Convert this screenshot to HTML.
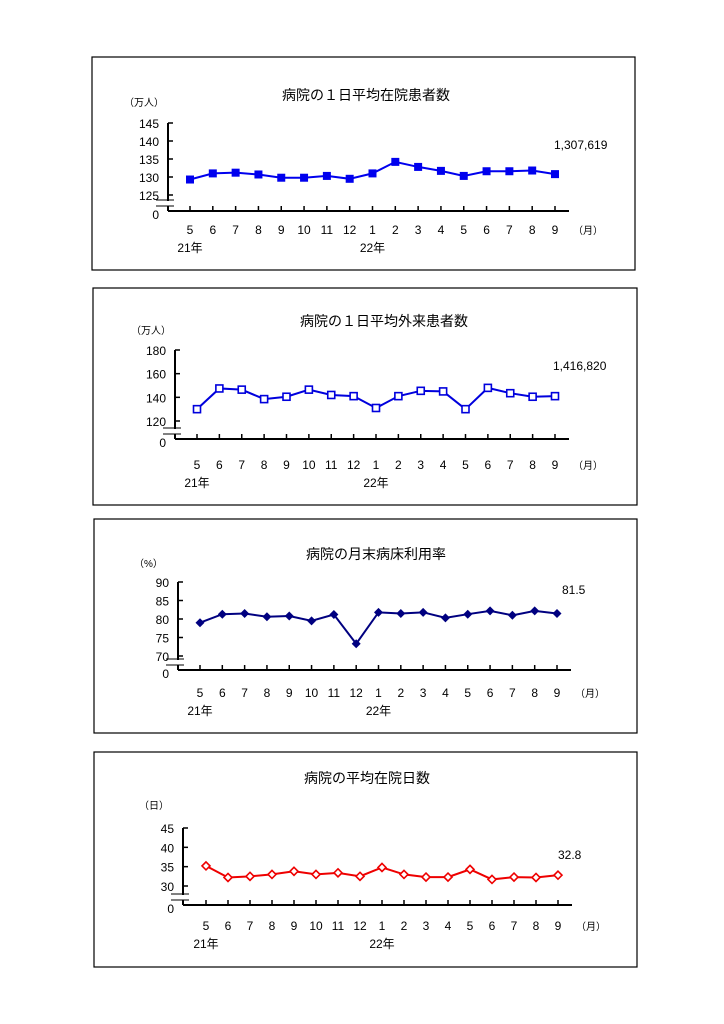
<!DOCTYPE html>
<html><head><meta charset="utf-8">
<style>
body{margin:0;background:#fff;}
svg{display:block;font-family:"Liberation Sans","Noto Sans CJK JP",sans-serif;}
</style></head>
<body>
<svg id="s" width="724" height="1024"></svg>
<script>
const months = ["5","6","7","8","9","10","11","12","1","2","3","4","5","6","7","8","9"];
const inpatientValues = [129.3,131,131.2,130.7,129.8,129.8,130.3,129.5,131,134.2,132.8,131.7,130.3,131.6,131.6,131.8,130.8];
const inpatientTicks = [125,130,135,140,145];
const outpatientValues = [130,147.5,146.5,138.5,140.5,146.5,142,141,131,141,145.5,145,130,148,143.5,140.5,141];
const outpatientTicks = [120,140,160,180];
const bedRateValues = [79,81.3,81.5,80.6,80.8,79.5,81.2,73.3,81.8,81.5,81.8,80.3,81.3,82.2,81,82.2,81.5];
const bedRateTicks = [70,75,80,85,90];
const stayValues = [35.2,32.2,32.5,33,33.8,33,33.4,32.5,34.8,33,32.3,32.3,34.3,31.7,32.3,32.2,32.8];
const stayTicks = [30,35,40,45];

const NS="http://www.w3.org/2000/svg";
const svg=document.getElementById('s');
function mk(tag,attrs,parent,text){const e=document.createElementNS(NS,tag);for(const k in attrs)e.setAttribute(k,attrs[k]);if(text!==undefined)e.textContent=text;(parent||svg).appendChild(e);return e;}

function chart(c){
  const g=mk('g',{});
  
  
  const box=mk('rect',{x:c.bx,y:c.by,width:c.bw,height:c.bh,fill:'none',stroke:'#000','stroke-width':1.2},g);
  
  
  const t=mk('text',{x:c.tx,y:c.ty,'font-size':14,'text-anchor':'middle'},g,c.title);
  
  
  const u=mk('text',{x:c.ax-44,y:c.uy,'font-size':10},g,c.unit);
  
  
  const y=v=>c.y0+(v-c.ticks[0])*(c.y1-c.y0)/(c.ticks[c.ticks.length-1]-c.ticks[0]);
  const x=i=>c.x0+i*(c.x1-c.x0)/(months.length-1);
  mk('line',{x1:c.ax,y1:y(c.ticks[c.ticks.length-1]),x2:c.ax,y2:c.base,stroke:'#000','stroke-width':2},g);
  mk('line',{x1:c.ax,y1:c.base,x2:c.x1+14,y2:c.base,stroke:'#000','stroke-width':2},g);
  mk('rect',{x:c.ax-2,y:c.base-10,width:4,height:5,fill:'#fff'},g);
  mk('line',{x1:c.ax-12,y1:c.base-11,x2:c.ax+6,y2:c.base-11,stroke:'#000','stroke-width':1},g);
  mk('line',{x1:c.ax-12,y1:c.base-5,x2:c.ax+6,y2:c.base-5,stroke:'#000','stroke-width':1},g);
  c.ticks.forEach(v=>{
    mk('line',{x1:c.ax,y1:y(v),x2:c.ax+5,y2:y(v),stroke:'#000','stroke-width':1.5},g);
    const l=mk('text',{x:c.ax-9,y:y(v)+5,'font-size':12,'text-anchor':'end'},g,String(v));
    
    
  });
  const z=mk('text',{x:c.ax-9,y:c.base+8,'font-size':12,'text-anchor':'end'},g,'0');
  
  
  months.forEach((m,i)=>{
    mk('line',{x1:x(i),y1:c.base,x2:x(i),y2:c.base-5,stroke:'#000','stroke-width':1.5},g);
    const l=mk('text',{x:x(i),y:c.ly,'font-size':12,'text-anchor':'middle'},g,m);
    
    
  });
  const mo=mk('text',{x:x(16)+33,y:c.ly,'font-size':10,'text-anchor':'middle'},g,'（月）');
  
  
  const y1=mk('text',{x:x(0),y:c.ly+18,'font-size':12,'text-anchor':'middle'},g,'21年');
  
  
  const y2=mk('text',{x:x(8),y:c.ly+18,'font-size':12,'text-anchor':'middle'},g,'22年');
  
  
  const pts=c.values.map((v,i)=>x(i)+','+y(v)).join(' ');
  const pl=mk('polyline',{points:pts,fill:'none',stroke:c.color,'stroke-width':2},g);
  
  
  c.values.forEach((v,i)=>{
    const px=x(i),py=y(v);let m;
    if(c.marker==='sq') m=mk('rect',{x:px-4,y:py-4,width:8,height:8,fill:c.color},g);
    else if(c.marker==='hsq') m=mk('rect',{x:px-3.5,y:py-3.5,width:7,height:7,fill:'#fff',stroke:c.color,'stroke-width':1.6},g);
    else if(c.marker==='dia') m=mk('polygon',{points:`${px},${py-4.5} ${px+4.5},${py} ${px},${py+4.5} ${px-4.5},${py}`,fill:c.color},g);
    else m=mk('polygon',{points:`${px},${py-4} ${px+4},${py} ${px},${py+4} ${px-4},${py}`,fill:'#fff',stroke:c.color,'stroke-width':1.6},g);
    
    
  });
  const vl=mk('text',{x:c.vx,y:c.vy,'font-size':12},g,c.vlabel);
  
  
}

chart({name:'inpatient-chart',bx:92,by:57,bw:543,bh:213,tx:366,ty:100,title:'病院の１日平均在院患者数',unit:'（万人）',uy:106,
 ax:168,ticks:inpatientTicks,y0:195,y1:123,base:211,x0:190,x1:555,ly:234,values:inpatientValues,color:'#0000ee',marker:'sq',vlabel:'1,307,619',vx:554,vy:149});
chart({name:'outpatient-chart',bx:93,by:288,bw:544,bh:217,tx:384,ty:326,title:'病院の１日平均外来患者数',unit:'（万人）',uy:334,
 ax:175,ticks:outpatientTicks,y0:421,y1:350,base:439,x0:197,x1:555,ly:469,values:outpatientValues,color:'#0000dd',marker:'hsq',vlabel:'1,416,820',vx:553,vy:370});
chart({name:'bed-utilization-chart',bx:94,by:519,bw:543,bh:214,tx:376,ty:559,title:'病院の月末病床利用率',unit:'（%）',uy:567,
 ax:178,ticks:bedRateTicks,y0:656,y1:582,base:670,x0:200,x1:557,ly:697,values:bedRateValues,color:'#000080',marker:'dia',vlabel:'81.5',vx:562,vy:594});
chart({name:'average-stay-chart',bx:94,by:752,bw:543,bh:215,tx:367,ty:783,title:'病院の平均在院日数',unit:'（日）',uy:809,
 ax:183,ticks:stayTicks,y0:886,y1:828,base:905,x0:206,x1:558,ly:930,values:stayValues,color:'#ee0000',marker:'hdia',vlabel:'32.8',vx:558,vy:859});
</script>
</body></html>
